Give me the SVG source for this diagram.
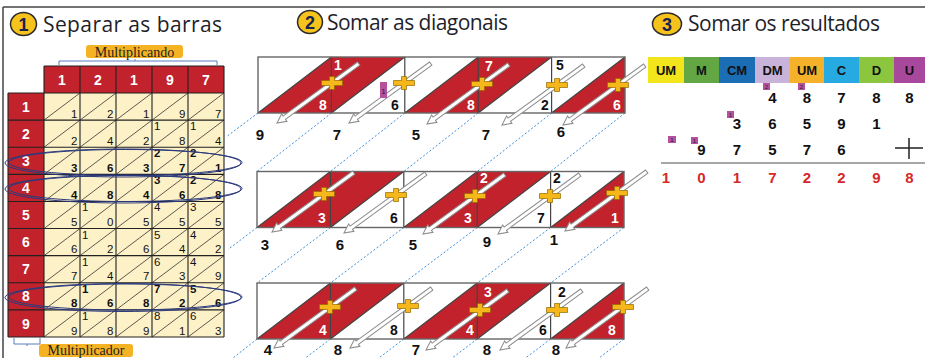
<svg xmlns="http://www.w3.org/2000/svg" xmlns:xlink="http://www.w3.org/1999/xlink" width="925" height="358" viewBox="0 0 925 358">
<defs>
<style>
.ttl{font-family:"Open Sans","Liberation Sans",sans-serif;font-size:21px;fill:#1f1f2a}
.cn{font-family:"Liberation Sans",Arial,sans-serif;font-weight:bold;font-size:18px;fill:#1a2350;text-anchor:middle}
.circ{fill:#f6c21c;stroke:#2a2a2a;stroke-width:1.5}
.red{fill:#c1222b}
.hd{font-family:"Liberation Sans",Arial,sans-serif;font-weight:bold;font-size:14px;fill:#fff;text-anchor:middle}
.cd{font-family:"Liberation Sans Narrow","Liberation Sans",Arial,sans-serif;font-size:11.5px;fill:#111}
.b{font-weight:bold}
.u{text-anchor:end}
.lbl{font-family:"Liberation Serif","Times New Roman",serif;font-size:14px;fill:#222;text-anchor:middle}
.lbox{fill:#f5b324}
.brk{fill:none;stroke:#5a7fc0;stroke-width:1}
.ell{fill:none;stroke:#2b3a7e;stroke-width:1}
.md{font-family:"Liberation Sans",Arial,sans-serif;font-weight:bold;font-size:14px;text-anchor:middle}
.w{fill:#fff}
.k{fill:#111}
.dash{fill:none;stroke:#3d8fdc;stroke-width:1;stroke-dasharray:2 2}
.arr{fill:#fff;stroke:#8c8c8c;stroke-width:1}
.pl{fill:#f5b71a;stroke:#8f6a00;stroke-width:0.7}
.pk{fill:#b5509f}
.pkt{font-family:"Liberation Sans",Arial,sans-serif;font-size:7px;fill:#222;text-anchor:middle}
.hdr{font-family:"Liberation Sans Narrow","Liberation Sans",Arial,sans-serif;font-weight:bold;font-size:13px;text-anchor:middle;fill:#111}
.rd{font-family:"Liberation Sans Narrow","Liberation Sans",Arial,sans-serif;font-weight:bold;font-size:15px;text-anchor:middle;fill:#111}
.rs{fill:#d42a2a}
</style>
<path id="arr" d="M0 0 L9 -4.5 L9 -2 L101 -2 L101 2 L9 2 L9 4.5 Z"/>
<path id="plus" d="M-10.5 -2.5H-2.5V-6.5H2.5V-2.5H10.5V2.5H2.5V6.5H-2.5V2.5H-10.5Z"/>
<g id="rowbase">
<rect x="0" y="0" width="367" height="56" fill="#fff"/>
<path class="red" d="M0 56 L73.4 0 L146.8 0 L73.4 56 Z M146.8 56 L220.2 0 L293.6 0 L220.2 56 Z M293.6 56 L367 0 L367 56 Z"/>
<path d="M0 56 L73.4 0 M73.4 56 L146.8 0 M146.8 56 L220.2 0 M220.2 56 L293.6 0 M293.6 56 L367 0 M73.4 0 V56 M146.8 0 V56 M220.2 0 V56 M293.6 0 V56" stroke="#444" stroke-width="1.2" fill="none"/>
<rect x="0" y="0" width="367" height="56" fill="none" stroke="#666" stroke-width="1.4"/>
</g>
</defs>

<rect x="0" y="0" width="925" height="358" fill="#fff"/>
<path d="M3 7H925M3 7V358" stroke="#444" stroke-width="1.5" fill="none"/>

<!-- titles -->
<g id="title1">
<ellipse class="circ" cx="23.5" cy="24" rx="13" ry="11.5"/>
<text class="cn" x="23.5" y="30.5">1</text>
<text class="ttl" x="43" y="32" textLength="179" lengthAdjust="spacing">Separar as barras</text>
</g>
<g id="title2">
<ellipse class="circ" cx="310" cy="22" rx="12.5" ry="11.5"/>
<text class="cn" x="310" y="28.5">2</text>
<text class="ttl" x="327" y="30" textLength="181" lengthAdjust="spacing">Somar as diagonais</text>
</g>
<g id="title3">
<ellipse class="circ" cx="667" cy="24" rx="14.5" ry="11"/>
<text class="cn" x="667" y="30.5">3</text>
<text class="ttl" x="688" y="31" textLength="192" lengthAdjust="spacing">Somar os resultados</text>
</g>

<!-- labels -->
<g id="multiplicando">
<path class="brk" d="M59 65V61H217V65M135 61V59"/>
<rect class="lbox" x="86" y="45" width="97" height="13" rx="3"/>
<text class="lbl" x="134.5" y="56.5">Multiplicando</text>
</g>
<g id="multiplicador">
<path class="brk" d="M14 338V344H40V338M27 344V346"/>
<rect class="lbox" x="39" y="344" width="94" height="13" rx="3"/>
<text class="lbl" x="86" y="355">Multiplicador</text>
</g>

<!-- lattice grid -->
<g id="grid">
<rect class="red" x="44" y="66" width="180" height="27"/>
<rect class="red" x="8" y="93" width="36" height="244"/>
<rect x="44" y="93" width="180" height="244" fill="#fdf1c7"/>
<path stroke="#333" stroke-width="0.8" fill="none" d="M44 120.11L80 93M44 147.22L116 93M44 174.33L152 93M44 201.44L188 93M44 228.56L224 93M44 255.67L224 120.11M44 282.78L224 147.22M44 309.89L224 174.33M44 337L224 201.44M80 337L224 228.56M116 337L224 255.67M152 337L224 282.78M188 337L224 309.89"/>
<path stroke="#222" stroke-width="1.1" fill="none" d="M44 66H224M8 93H224M8 120.11H224M8 147.22H224M8 174.33H224M8 201.44H224M8 228.56H224M8 255.67H224M8 282.78H224M8 309.89H224M8 337H224M8 93V337M44 66V337M80 66V337M116 66V337M152 66V337M188 66V337M224 66V337"/>
<g class="hd">
<text x="62" y="85">1</text><text x="98" y="85">2</text><text x="134" y="85">1</text><text x="170" y="85">9</text><text x="206" y="85">7</text>
<text x="26" y="111.6">1</text><text x="26" y="138.7">2</text><text x="26" y="165.8">3</text><text x="26" y="192.9">4</text><text x="26" y="220">5</text><text x="26" y="247.2">6</text><text x="26" y="274.3">7</text><text x="26" y="301.4">8</text><text x="26" y="328.5">9</text>
</g>
<g class="cd u">
<text x="77.5" y="117.6">1</text><text x="113.5" y="117.6">2</text><text x="149.5" y="117.6">1</text><text x="185.5" y="117.6">9</text><text x="221.5" y="117.6">7</text>
<text x="77.5" y="144.7">2</text><text x="113.5" y="144.7">4</text><text x="149.5" y="144.7">2</text><text x="185.5" y="144.7">8</text><text x="221.5" y="144.7">4</text>
<text class="b" x="77.5" y="171.8">3</text><text class="b" x="113.5" y="171.8">6</text><text class="b" x="149.5" y="171.8">3</text><text class="b" x="185.5" y="171.8">7</text><text class="b" x="221.5" y="171.8">1</text>
<text class="b" x="77.5" y="198.9">4</text><text class="b" x="113.5" y="198.9">8</text><text class="b" x="149.5" y="198.9">4</text><text class="b" x="185.5" y="198.9">6</text><text class="b" x="221.5" y="198.9">8</text>
<text x="77.5" y="226.1">5</text><text x="113.5" y="226.1">0</text><text x="149.5" y="226.1">5</text><text x="185.5" y="226.1">5</text><text x="221.5" y="226.1">5</text>
<text x="77.5" y="253.2">6</text><text x="113.5" y="253.2">2</text><text x="149.5" y="253.2">6</text><text x="185.5" y="253.2">4</text><text x="221.5" y="253.2">2</text>
<text x="77.5" y="280.3">7</text><text x="113.5" y="280.3">4</text><text x="149.5" y="280.3">7</text><text x="185.5" y="280.3">3</text><text x="221.5" y="280.3">9</text>
<text class="b" x="77.5" y="307.4">8</text><text class="b" x="113.5" y="307.4">6</text><text class="b" x="149.5" y="307.4">8</text><text class="b" x="185.5" y="307.4">2</text><text class="b" x="221.5" y="307.4">6</text>
<text x="77.5" y="334.5">9</text><text x="113.5" y="334.5">8</text><text x="149.5" y="334.5">9</text><text x="185.5" y="334.5">1</text><text x="221.5" y="334.5">3</text>
</g>
<g class="cd">
<text x="154" y="130.1">1</text><text x="190" y="130.1">1</text>
<text class="b" x="154" y="157.2">2</text><text class="b" x="190" y="157.2">2</text>
<text class="b" x="154" y="184.3">3</text><text class="b" x="190" y="184.3">2</text>
<text x="82" y="211.4">1</text><text x="154" y="211.4">4</text><text x="190" y="211.4">3</text>
<text x="82" y="238.6">1</text><text x="154" y="238.6">5</text><text x="190" y="238.6">4</text>
<text x="82" y="265.7">1</text><text x="154" y="265.7">6</text><text x="190" y="265.7">4</text>
<text class="b" x="82" y="292.8">1</text><text class="b" x="154" y="292.8">7</text><text class="b" x="190" y="292.8">5</text>
<text x="82" y="319.9">1</text><text x="154" y="319.9">8</text><text x="190" y="319.9">6</text>
</g>
</g>

<g id="highlights">
<ellipse class="ell" cx="123" cy="163" rx="118" ry="14"/>
<ellipse class="ell" cx="125.5" cy="162.5" rx="116.5" ry="13"/>
<ellipse class="ell" cx="123" cy="189" rx="118" ry="14"/>
<ellipse class="ell" cx="125.5" cy="188.5" rx="116.5" ry="13"/>
<ellipse class="ell" cx="123" cy="297.5" rx="118" ry="14"/>
<ellipse class="ell" cx="125.5" cy="297" rx="116.5" ry="13"/>
</g>

<!-- connectors -->
<g id="connectors">
<path class="dash" d="M258 113L226 137M331.4 113L257 171.5M404.8 113L330.4 171.5M478.2 113L403.8 171.5M551.6 113L477.2 171.5M625 113L550.6 171.5"/>
<path class="dash" d="M257 227.5L228 249.5M330.4 227.5L257 283M403.8 227.5L330.4 283M477.2 227.5L403.8 283M550.6 227.5L477.2 283M624 227.5L550.6 283"/>
<path class="dash" d="M257 339L233 358M330.4 339L305.4 358M403.8 339L378.8 358M477.2 339L452.2 358M550.6 339L525.6 358M624 339L599 358"/>
</g>

<!-- row x8 -->
<g id="row8">
<use href="#rowbase" xlink:href="#rowbase" transform="translate(258,57)"/>
<g class="md">
<text class="w" x="323" y="110">8</text>
<text class="w" x="338" y="70">1</text>
<text class="k" x="395" y="110">6</text>
<text class="w" x="471" y="110">8</text>
<text class="w" x="489" y="71">7</text>
<text class="k" x="545" y="110">2</text>
<text class="k" x="560" y="70">5</text>
<text class="w" x="617" y="110">6</text>
</g>
<g class="arr">
<use href="#arr" xlink:href="#arr" transform="translate(277,123) rotate(-36)"/>
<use href="#arr" xlink:href="#arr" transform="translate(349,123) rotate(-36)"/>
<use href="#arr" xlink:href="#arr" transform="translate(427,124) rotate(-36)"/>
<use href="#arr" xlink:href="#arr" transform="translate(502,125) rotate(-36)"/>
<use href="#arr" xlink:href="#arr" transform="translate(563,125) rotate(-36)"/>
</g>
<g class="pl">
<use href="#plus" xlink:href="#plus" x="332" y="83"/>
<use href="#plus" xlink:href="#plus" x="404" y="83"/>
<use href="#plus" xlink:href="#plus" x="482" y="84"/>
<use href="#plus" xlink:href="#plus" x="557" y="85"/>
<use href="#plus" xlink:href="#plus" x="618" y="85"/>
</g>
<rect class="pk" x="380" y="82" width="7" height="16"/>
<text class="pkt" x="383.5" y="93.5" style="font-size:8px">1</text>
<g class="rd">
<text x="260" y="140">9</text><text x="337" y="140">7</text><text x="416" y="140">5</text><text x="486" y="140">7</text><text x="561" y="137">6</text>
</g>
</g>

<!-- row x3 -->
<g id="row3">
<use href="#rowbase" xlink:href="#rowbase" transform="translate(257,171.5)"/>
<g class="md">
<text class="w" x="322" y="223">3</text>
<text class="k" x="394" y="223">6</text>
<text class="w" x="468" y="223">3</text>
<text class="w" x="484" y="183">2</text>
<text class="k" x="541" y="223">7</text>
<text class="k" x="557" y="183">2</text>
<text class="w" x="615" y="223">1</text>
</g>
<g class="arr">
<use href="#arr" xlink:href="#arr" transform="translate(272,232) rotate(-36)"/>
<use href="#arr" xlink:href="#arr" transform="translate(344,233) rotate(-36)"/>
<use href="#arr" xlink:href="#arr" transform="translate(423,234) rotate(-36)"/>
<use href="#arr" xlink:href="#arr" transform="translate(498,234) rotate(-36)"/>
<use href="#arr" xlink:href="#arr" transform="translate(565,231) rotate(-36)"/>
</g>
<g class="pl">
<use href="#plus" xlink:href="#plus" x="324" y="194"/>
<use href="#plus" xlink:href="#plus" x="396" y="195"/>
<use href="#plus" xlink:href="#plus" x="475" y="196"/>
<use href="#plus" xlink:href="#plus" x="550" y="196"/>
<use href="#plus" xlink:href="#plus" x="617" y="193"/>
</g>
<g class="rd">
<text x="265" y="250">3</text><text x="340" y="250">6</text><text x="413" y="250">5</text><text x="487" y="247">9</text><text x="554" y="245">1</text>
</g>
</g>

<!-- row x4 -->
<g id="row4">
<use href="#rowbase" xlink:href="#rowbase" transform="translate(257,283)"/>
<g class="md">
<text class="w" x="323" y="335">4</text>
<text class="k" x="394" y="335">8</text>
<text class="w" x="470" y="335">4</text>
<text class="w" x="488" y="297">3</text>
<text class="k" x="543" y="335">6</text>
<text class="k" x="562" y="297">2</text>
<text class="w" x="612" y="335">8</text>
</g>
<g class="arr">
<use href="#arr" xlink:href="#arr" transform="translate(274,348) rotate(-36)"/>
<use href="#arr" xlink:href="#arr" transform="translate(350,348) rotate(-36)"/>
<use href="#arr" xlink:href="#arr" transform="translate(426,350) rotate(-36)"/>
<use href="#arr" xlink:href="#arr" transform="translate(500,350) rotate(-36)"/>
<use href="#arr" xlink:href="#arr" transform="translate(566,348) rotate(-36)"/>
</g>
<g class="pl">
<use href="#plus" xlink:href="#plus" x="330" y="307"/>
<use href="#plus" xlink:href="#plus" x="408" y="306"/>
<use href="#plus" xlink:href="#plus" x="480" y="310"/>
<use href="#plus" xlink:href="#plus" x="557" y="310"/>
<use href="#plus" xlink:href="#plus" x="623" y="307"/>
</g>
<g class="rd">
<text x="268" y="355">4</text><text x="338" y="355">8</text><text x="416" y="355">7</text><text x="487" y="355">8</text><text x="556" y="355">8</text>
</g>
</g>

<!-- results -->
<g id="place-values">
<rect x="648" y="57" width="36" height="26" fill="#f2e51c"/>
<rect x="684" y="57" width="35" height="26" fill="#62a744"/>
<rect x="719" y="57" width="36" height="26" fill="#1b6db4"/>
<rect x="755" y="57" width="35" height="26" fill="#c9b3da"/>
<rect x="790" y="57" width="34" height="26" fill="#f5b12a"/>
<rect x="824" y="57" width="35" height="26" fill="#27a9e1"/>
<rect x="859" y="57" width="35" height="26" fill="#8cc63e"/>
<rect x="894" y="57" width="31" height="26" fill="#a8489c"/>
<g class="hdr">
<text x="666" y="74.5">UM</text><text x="701.5" y="74.5">M</text><text x="737" y="74.5">CM</text><text x="772.5" y="74.5">DM</text><text x="807" y="74.5">UM</text><text x="841.5" y="74.5">C</text><text x="876.5" y="74.5">D</text><text x="909.5" y="74.5">U</text>
</g>
</g>
<g id="sum">
<rect class="pk" x="763" y="83" width="7" height="7"/><text class="pkt" x="766.5" y="89" style="font-size:6px">2</text>
<rect class="pk" x="798" y="83" width="7" height="7"/><text class="pkt" x="801.5" y="89" style="font-size:6px">2</text>
<rect class="pk" x="727" y="111" width="7" height="7"/><text class="pkt" x="730.5" y="117" style="font-size:6px">1</text>
<rect class="pk" x="668" y="136" width="8" height="7"/><text class="pkt" x="672" y="142" style="font-size:6px">1</text>
<rect class="pk" x="691" y="137" width="7" height="7"/><text class="pkt" x="694.5" y="143" style="font-size:6px">1</text>
<g class="rd">
<text x="772.5" y="103">4</text><text x="807" y="103">8</text><text x="841.5" y="103">7</text><text x="876.5" y="103">8</text><text x="909.5" y="103">8</text>
<text x="737" y="129">3</text><text x="772.5" y="129">6</text><text x="807" y="129">5</text><text x="841.5" y="129">9</text><text x="876.5" y="129">1</text>
<text x="701.5" y="155">9</text><text x="737" y="155">7</text><text x="772.5" y="155">5</text><text x="807" y="155">7</text><text x="841.5" y="155">6</text>
</g>
<path d="M895 148H923M909 138V159" stroke="#222" stroke-width="1.5" fill="none"/>
<path d="M661 163H925" stroke="#8a8a8a" stroke-width="1.5" fill="none"/>
<g class="rd rs">
<text class="rs" x="666" y="183">1</text><text class="rs" x="701.5" y="183">0</text><text class="rs" x="737" y="183">1</text><text class="rs" x="772.5" y="183">7</text><text class="rs" x="807" y="183">2</text><text class="rs" x="841.5" y="183">2</text><text class="rs" x="876.5" y="183">9</text><text class="rs" x="909.5" y="183">8</text>
</g>
</g>
</svg>
